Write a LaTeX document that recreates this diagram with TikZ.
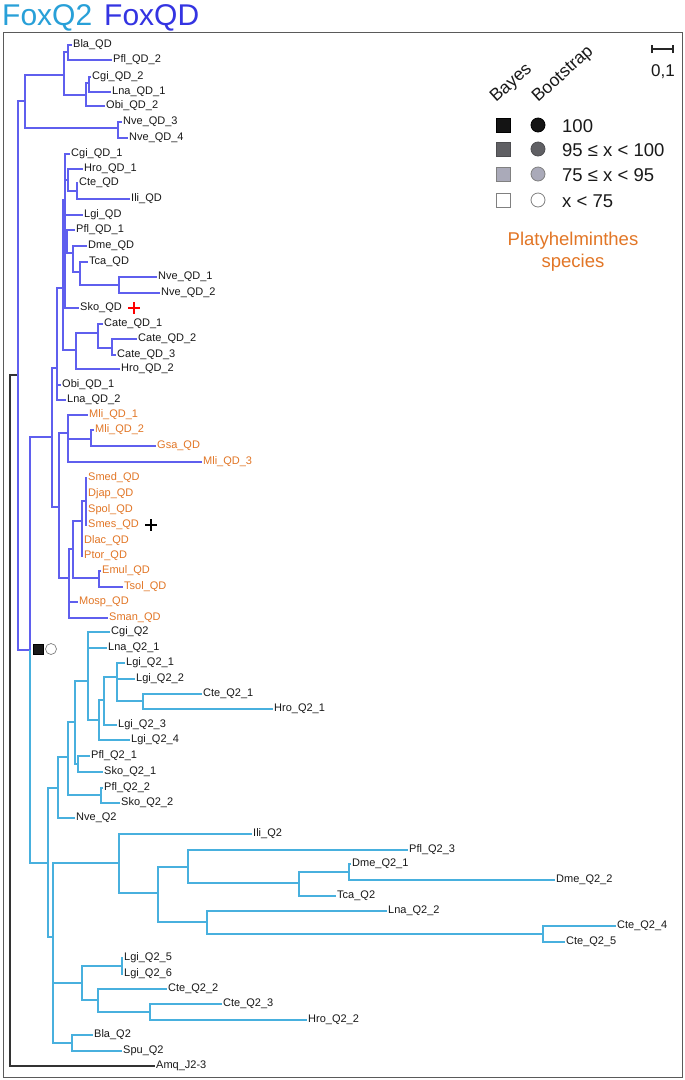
\documentclass[tikz,border=0pt]{standalone}
\usepackage{fontspec}
\setmainfont{Liberation Sans}
\definecolor{qdline}{RGB}{95,95,238}
\definecolor{qdtitle}{RGB}{52,52,226}
\definecolor{qtwoline}{RGB}{72,176,222}
\definecolor{qtwotitle}{RGB}{40,160,216}
\definecolor{platy}{RGB}{226,118,38}
\definecolor{framec}{RGB}{90,90,90}
\definecolor{greyd}{RGB}{96,96,100}
\definecolor{greyl}{RGB}{170,170,185}
\begin{document}
\begin{tikzpicture}[x=1pt,y=-1pt,
  qd/.style={draw=qdline,line width=1.4pt},
  qt/.style={draw=qtwoline,line width=1.4pt},
  rt/.style={draw=black!80,line width=1.2pt},
  lf/.style={anchor=mid west,inner xsep=1pt,inner ysep=0pt,font=\fontsize{11}{12}\selectfont,text=black!90},
  lfo/.style={lf,text=platy},
  sqbox/.style={rectangle,minimum size=14pt,inner sep=0pt,draw=#1,line width=0.8pt},
  circbox/.style={circle,minimum size=14pt,inner sep=0pt,draw=#1,line width=0.8pt},
  lgtext/.style={anchor=base west,inner sep=0pt,font=\fontsize{18.5}{20}\selectfont,text=black!90},
  rottext/.style={anchor=base west,inner sep=0pt,font=\fontsize{17.5}{20}\selectfont,text=black!90,rotate=42},
  ttl/.style={anchor=base west,inner sep=0pt,font=\fontsize{30}{34}\selectfont}
]
\useasboundingbox (0,0) rectangle (685,1080);
\fill[white] (0,0) rectangle (685,1080);

% title
\node[ttl,text=qtwotitle] (t1) at (2,25) {FoxQ2};
\node[ttl,text=qdtitle] (t2) at (104,25) {FoxQD};

% frame
\draw[framec,line width=1pt] (3,32) rectangle (682,1077);

% ---------- leaves ----------
% FoxQD upper
\node[lf] (BlaQD) at (72,45) {Bla\_QD};
\node[lf] (PflQD2) at (112,60) {Pfl\_QD\_2};
\node[lf] (CgiQD2) at (91,77) {Cgi\_QD\_2};
\node[lf] (LnaQD1) at (111,92) {Lna\_QD\_1};
\node[lf] (ObiQD2) at (105,106) {Obi\_QD\_2};
\node[lf] (NveQD3) at (122,122) {Nve\_QD\_3};
\node[lf] (NveQD4) at (128,138) {Nve\_QD\_4};
\node[lf] (CgiQD1) at (70,154) {Cgi\_QD\_1};
\node[lf] (HroQD1) at (83,169) {Hro\_QD\_1};
\node[lf] (CteQD) at (78,183) {Cte\_QD};
\node[lf] (IliQD) at (130,199) {Ili\_QD};
\node[lf] (LgiQD) at (83,215) {Lgi\_QD};
\node[lf] (PflQD1) at (75,230) {Pfl\_QD\_1};
\node[lf] (DmeQD) at (87,246) {Dme\_QD};
\node[lf] (TcaQD) at (88,262) {Tca\_QD};
\node[lf] (NveQD1) at (157,277) {Nve\_QD\_1};
\node[lf] (NveQD2) at (160,293) {Nve\_QD\_2};
\node[lf] (SkoQD) at (79,308) {Sko\_QD};
\node[lf] (CateQD1) at (103,324) {Cate\_QD\_1};
\node[lf] (CateQD2) at (137,339) {Cate\_QD\_2};
\node[lf] (CateQD3) at (116,355) {Cate\_QD\_3};
\node[lf] (HroQD2) at (120,369) {Hro\_QD\_2};
\node[lf] (ObiQD1) at (61,385) {Obi\_QD\_1};
\node[lf] (LnaQD2) at (66,400) {Lna\_QD\_2};
% FoxQD platyhelminthes
\node[lfo] (MliQD1) at (88,415) {Mli\_QD\_1};
\node[lfo] (MliQD2) at (94,430) {Mli\_QD\_2};
\node[lfo] (GsaQD) at (156,446) {Gsa\_QD};
\node[lfo] (MliQD3) at (202,462) {Mli\_QD\_3};
\node[lfo] (SmedQD) at (87,478) {Smed\_QD};
\node[lfo] (DjapQD) at (87,494) {Djap\_QD};
\node[lfo] (SpolQD) at (87,510) {Spol\_QD};
\node[lfo] (SmesQD) at (87,525) {Smes\_QD};
\node[lfo] (DlacQD) at (83,541) {Dlac\_QD};
\node[lfo] (PtorQD) at (83,556) {Ptor\_QD};
\node[lfo] (EmulQD) at (101,571) {Emul\_QD};
\node[lfo] (TsolQD) at (123,587) {Tsol\_QD};
\node[lfo] (MospQD) at (78,602) {Mosp\_QD};
\node[lfo] (SmanQD) at (108,618) {Sman\_QD};
% FoxQ2
\node[lf] (CgiQ2) at (110,632) {Cgi\_Q2};
\node[lf] (LnaQ21) at (107,648) {Lna\_Q2\_1};
\node[lf] (LgiQ21) at (125,663) {Lgi\_Q2\_1};
\node[lf] (LgiQ22) at (135,679) {Lgi\_Q2\_2};
\node[lf] (CteQ21) at (202,694) {Cte\_Q2\_1};
\node[lf] (HroQ21) at (273,709) {Hro\_Q2\_1};
\node[lf] (LgiQ23) at (117,725) {Lgi\_Q2\_3};
\node[lf] (LgiQ24) at (130,740) {Lgi\_Q2\_4};
\node[lf] (PflQ21) at (90,756) {Pfl\_Q2\_1};
\node[lf] (SkoQ21) at (103,772) {Sko\_Q2\_1};
\node[lf] (PflQ22) at (103,788) {Pfl\_Q2\_2};
\node[lf] (SkoQ22) at (120,803) {Sko\_Q2\_2};
\node[lf] (NveQ2) at (75,818) {Nve\_Q2};
\node[lf] (IliQ2) at (252,834) {Ili\_Q2};
\node[lf] (PflQ23) at (408,850) {Pfl\_Q2\_3};
\node[lf] (DmeQ21) at (351,864) {Dme\_Q2\_1};
\node[lf] (DmeQ22) at (555,880) {Dme\_Q2\_2};
\node[lf] (TcaQ2) at (336,896) {Tca\_Q2};
\node[lf] (LnaQ22) at (387,911) {Lna\_Q2\_2};
\node[lf] (CteQ24) at (616,926) {Cte\_Q2\_4};
\node[lf] (CteQ25) at (565,942) {Cte\_Q2\_5};
\node[lf] (LgiQ25) at (123,958) {Lgi\_Q2\_5};
\node[lf] (LgiQ26) at (123,974) {Lgi\_Q2\_6};
\node[lf] (CteQ22) at (167,989) {Cte\_Q2\_2};
\node[lf] (CteQ23) at (222,1004) {Cte\_Q2\_3};
\node[lf] (HroQ22) at (307,1020) {Hro\_Q2\_2};
\node[lf] (BlaQ2) at (93,1035) {Bla\_Q2};
\node[lf] (SpuQ2) at (122,1051) {Spu\_Q2};
\node[lf] (Amq) at (155,1066) {Amq\_J2-3};

% ---------- internal nodes ----------
\coordinate (root) at (10,375);
\coordinate (n18) at (18,375);
\coordinate (nB) at (25,101);
\coordinate (n64) at (64,75);
\coordinate (n68a) at (68,52);
\coordinate (n86) at (86,95);
\coordinate (n89) at (89,83);
\coordinate (n118) at (118,128);
\coordinate (n30) at (30,650);
\coordinate (n52) at (52,437);
\coordinate (n57) at (57,368);
\coordinate (n63) at (63,288);
\coordinate (n65) at (65,200);
\coordinate (n68b) at (68,180);
\coordinate (n77) at (77,191);
\coordinate (n67) at (67,241);
\coordinate (n73) at (73,253);
\coordinate (n80) at (80,272);
\coordinate (n119) at (119,285);
\coordinate (n76) at (76,350);
\coordinate (n98) at (98,333);
\coordinate (n112) at (112,348);
\coordinate (n59) at (59,507);
\coordinate (n68c) at (68,433);
\coordinate (n91) at (91,439);
\coordinate (n69) at (69,578);
\coordinate (n73b) at (73,549);
\coordinate (n82) at (82,521);
\coordinate (n86b) at (86,501);
\coordinate (n99) at (99,578);
\coordinate (n48) at (48,863);
\coordinate (n58) at (58,788);
\coordinate (n68d) at (68,757);
\coordinate (n75) at (75,722);
\coordinate (n88) at (88,681);
\coordinate (n99b) at (99,720);
\coordinate (n104) at (104,700);
\coordinate (n117) at (117,677);
\coordinate (n143) at (143,701);
\coordinate (n78) at (78,764);
\coordinate (n101) at (101,795);
\coordinate (n53) at (53,937);
\coordinate (n119b) at (119,863);
\coordinate (n158) at (158,893);
\coordinate (n188) at (188,867);
\coordinate (n299) at (299,883);
\coordinate (n349) at (349,872);
\coordinate (n207) at (207,922);
\coordinate (n543) at (543,934);
\coordinate (n82b) at (82,983);
\coordinate (n122) at (122,966);
\coordinate (n98b) at (98,1000);
\coordinate (n150) at (150,1012);
\coordinate (n72) at (72,1043);

% ---------- branches ----------
\draw[rt] (n18) -- (root) |- (Amq.mid west);
\draw[qd] (n18) |- (nB);
\draw[qd] (n18) |- (n30);
\draw[qd] (n30) |- (n52);
\draw[qt] (n30) |- (n48);
% upper FoxQD
\draw[qd] (nB) |- (n64);
\draw[qd] (nB) |- (n118);
\draw[qd] (n64) |- (n68a);
\draw[qd] (n64) |- (n86);
\draw[qd] (n68a) |- (BlaQD.mid west);
\draw[qd] (n68a) |- (PflQD2.mid west);
\draw[qd] (n86) |- (n89);
\draw[qd] (n86) |- (ObiQD2.mid west);
\draw[qd] (n89) |- (CgiQD2.mid west);
\draw[qd] (n89) |- (LnaQD1.mid west);
\draw[qd] (n118) |- (NveQD3.mid west);
\draw[qd] (n118) |- (NveQD4.mid west);
% main FoxQD
\draw[qd] (n52) |- (n57);
\draw[qd] (n52) |- (n59);
\draw[qd] (n57) |- (n63);
\draw[qd] (n57) |- (ObiQD1.mid west);
\draw[qd] (n57) |- (LnaQD2.mid west);
\draw[qd] (n63) |- (n65);
\draw[qd] (n63) |- (n76);
\draw[qd] (n65) |- (CgiQD1.mid west);
\draw[qd] (n65) |- (n68b);
\draw[qd] (n65) |- (LgiQD.mid west);
\draw[qd] (n65) |- (n67);
\draw[qd] (n65) |- (SkoQD.mid west);
\draw[qd] (n68b) |- (HroQD1.mid west);
\draw[qd] (n68b) |- (n77);
\draw[qd] (n77) |- (CteQD.mid west);
\draw[qd] (n77) |- (IliQD.mid west);
\draw[qd] (n67) |- (PflQD1.mid west);
\draw[qd] (n67) |- (n73);
\draw[qd] (n73) |- (DmeQD.mid west);
\draw[qd] (n73) |- (n80);
\draw[qd] (n80) |- (TcaQD.mid west);
\draw[qd] (n80) |- (n119);
\draw[qd] (n119) |- (NveQD1.mid west);
\draw[qd] (n119) |- (NveQD2.mid west);
\draw[qd] (n76) |- (n98);
\draw[qd] (n76) |- (HroQD2.mid west);
\draw[qd] (n98) |- (CateQD1.mid west);
\draw[qd] (n98) |- (n112);
\draw[qd] (n112) |- (CateQD2.mid west);
\draw[qd] (n112) |- (CateQD3.mid west);
% platyhelminthes FoxQD
\draw[qd] (n59) |- (n68c);
\draw[qd] (n59) |- (n69);
\draw[qd] (n68c) |- (MliQD1.mid west);
\draw[qd] (n68c) |- (n91);
\draw[qd] (n68c) |- (MliQD3.mid west);
\draw[qd] (n91) |- (MliQD2.mid west);
\draw[qd] (n91) |- (GsaQD.mid west);
\draw[qd] (n69) |- (n73b);
\draw[qd] (n69) |- (MospQD.mid west);
\draw[qd] (n69) |- (SmanQD.mid west);
\draw[qd] (n73b) |- (n82);
\draw[qd] (n73b) |- (n99);
\draw[qd] (n82) |- (n86b);
\draw[qd] (n82) |- (DlacQD.mid west);
\draw[qd] (n82) |- (PtorQD.mid west);
\draw[qd] (n86b) |- (SmedQD.mid west);
\draw[qd] (n86b) |- (DjapQD.mid west);
\draw[qd] (n86b) |- (SpolQD.mid west);
\draw[qd] (n86b) |- (SmesQD.mid west);
\draw[qd] (n99) |- (EmulQD.mid west);
\draw[qd] (n99) |- (TsolQD.mid west);
% FoxQ2
\draw[qt] (n48) |- (n58);
\draw[qt] (n48) |- (n53);
\draw[qt] (n58) |- (n68d);
\draw[qt] (n58) |- (NveQ2.mid west);
\draw[qt] (n68d) |- (n75);
\draw[qt] (n68d) |- (n101);
\draw[qt] (n75) |- (n88);
\draw[qt] (n75) |- (n78);
\draw[qt] (n88) |- (CgiQ2.mid west);
\draw[qt] (n88) |- (LnaQ21.mid west);
\draw[qt] (n88) |- (n99b);
\draw[qt] (n99b) |- (n104);
\draw[qt] (n99b) |- (LgiQ24.mid west);
\draw[qt] (n104) |- (n117);
\draw[qt] (n104) |- (LgiQ23.mid west);
\draw[qt] (n117) |- (LgiQ21.mid west);
\draw[qt] (n117) |- (LgiQ22.mid west);
\draw[qt] (n117) |- (n143);
\draw[qt] (n143) |- (CteQ21.mid west);
\draw[qt] (n143) |- (HroQ21.mid west);
\draw[qt] (n78) |- (PflQ21.mid west);
\draw[qt] (n78) |- (SkoQ21.mid west);
\draw[qt] (n101) |- (PflQ22.mid west);
\draw[qt] (n101) |- (SkoQ22.mid west);
\draw[qt] (n53) |- (n119b);
\draw[qt] (n53) |- (n82b);
\draw[qt] (n53) |- (n72);
\draw[qt] (n119b) |- (IliQ2.mid west);
\draw[qt] (n119b) |- (n158);
\draw[qt] (n158) |- (n188);
\draw[qt] (n158) |- (n207);
\draw[qt] (n188) |- (PflQ23.mid west);
\draw[qt] (n188) |- (n299);
\draw[qt] (n299) |- (n349);
\draw[qt] (n299) |- (TcaQ2.mid west);
\draw[qt] (n349) |- (DmeQ21.mid west);
\draw[qt] (n349) |- (DmeQ22.mid west);
\draw[qt] (n207) |- (LnaQ22.mid west);
\draw[qt] (n207) |- (n543);
\draw[qt] (n543) |- (CteQ24.mid west);
\draw[qt] (n543) |- (CteQ25.mid west);
\draw[qt] (n82b) |- (n122);
\draw[qt] (n82b) |- (n98b);
\draw[qt] (n122) |- (LgiQ25.mid west);
\draw[qt] (n122) |- (LgiQ26.mid west);
\draw[qt] (n98b) |- (CteQ22.mid west);
\draw[qt] (n98b) |- (n150);
\draw[qt] (n150) |- (CteQ23.mid west);
\draw[qt] (n150) |- (HroQ22.mid west);
\draw[qt] (n72) |- (BlaQ2.mid west);
\draw[qt] (n72) |- (SpuQ2.mid west);

% support marker at FoxQ2/FoxQD split
\node[rectangle,minimum size=10pt,inner sep=0pt,fill=black!90,draw=black] (mbayes) at (38,649) {};
\node[circle,minimum size=11pt,inner sep=0pt,fill=white,draw=gray,line width=0.7pt] (mboot) at (51,649) {};

% crosses
\draw[red,line width=2pt] (128,308) -- (140,308) (134,302) -- (134,314);
\draw[black,line width=2pt] (145,525) -- (157,525) (151,519) -- (151,531);

% ---------- legend ----------
\node[rottext] (bayes) at (496,103) {Bayes};
\node[rottext] (boot) at (538,103) {Bootstrap};
\node[sqbox=black,fill=black!92] (s1) at (503,125) {};
\node[sqbox=greyd!80!black,fill=greyd] (s2) at (503,149) {};
\node[sqbox=gray,fill=greyl] (s3) at (503,174) {};
\node[sqbox=gray,fill=white] (s4) at (503,200) {};
\node[circbox=black,fill=black!92] (c1) at (538,125) {};
\node[circbox=greyd!80!black,fill=greyd] (c2) at (538,149) {};
\node[circbox=gray,fill=greyl] (c3) at (538,174) {};
\node[circbox=gray,fill=white] (c4) at (538,200) {};
\node[lgtext] (v1) at (562,132) {100};
\node[lgtext] (v2) at (562,156) {95 ≤ x < 100};
\node[lgtext] (v3) at (562,181) {75 ≤ x < 95};
\node[lgtext] (v4) at (562,207) {x < 75};
\node[anchor=base,inner sep=0pt,font=\fontsize{18.5}{20}\selectfont,text=platy] (pl1) at (573,245) {Platyhelminthes};
\node[anchor=base,inner sep=0pt,font=\fontsize{18.5}{20}\selectfont,text=platy] (pl2) at (573,267) {species};

% scale bar
\coordinate (sbl) at (652,49);
\coordinate (sbr) at (673,49);
\draw[black!85,line width=1.2pt] (sbl) -- (sbr);
\draw[black!85,line width=1.2pt] ([yshift=-4pt]sbl) -- ([yshift=4pt]sbl);
\draw[black!85,line width=1.2pt] ([yshift=-4pt]sbr) -- ([yshift=4pt]sbr);
\node[anchor=base,inner sep=0pt,font=\fontsize{17}{20}\selectfont,text=black!90] (sblab) at (663,76) {0,1};
\end{tikzpicture}
\end{document}
